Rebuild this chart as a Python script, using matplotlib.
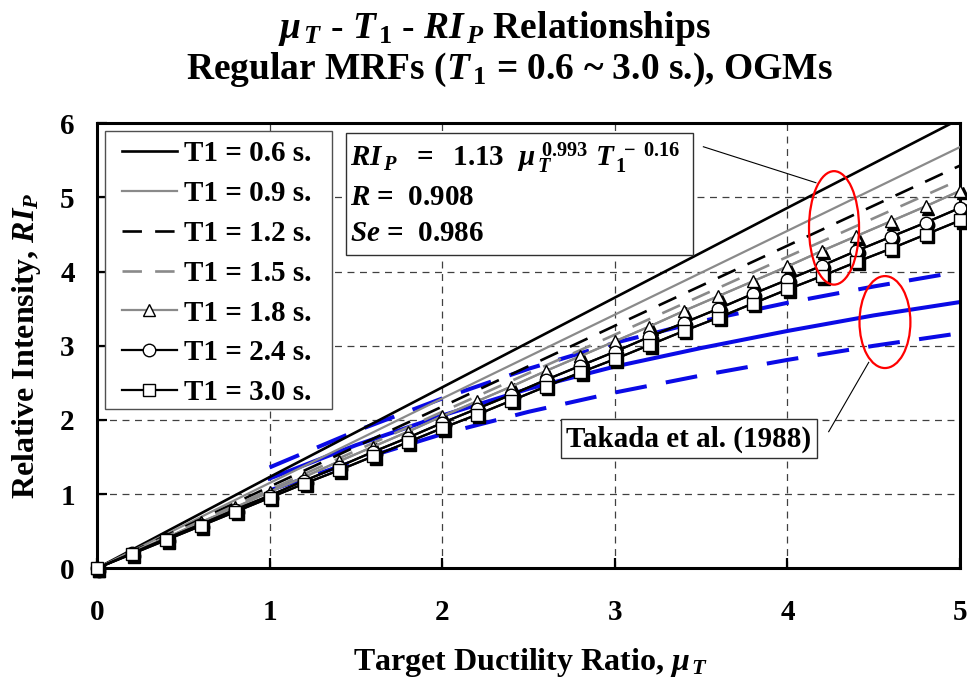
"""mu_T - T1 - RI_P relationships for regular MRFs under OGMs, with Takada et al. (1988) band."""

import matplotlib as mpl

mpl.use("Agg")
import matplotlib.pyplot as plt
from matplotlib.patches import Ellipse, Rectangle
from matplotlib.transforms import offset_copy

plt.rcParams["font.family"] = "Liberation Serif"
plt.rcParams["font.weight"] = "bold"
plt.rcParams["axes.labelweight"] = "bold"
plt.rcParams["mathtext.fontset"] = "custom"
plt.rcParams["mathtext.rm"] = "Liberation Serif:bold"
plt.rcParams["mathtext.it"] = "Liberation Serif:bold:italic"
plt.rcParams["mathtext.bf"] = "Liberation Serif:bold"
plt.rcParams["lines.scale_dashes"] = False

# target ductility ratio grids
MU_LINE = [0, 1, 2, 3, 4, 5]
MU_MARK = [0.0, 0.2, 0.4, 0.6, 0.8, 1.0, 1.2, 1.4, 1.6, 1.8, 2.0, 2.2, 2.4,
           2.6, 2.8, 3.0, 3.2, 3.4, 3.6, 3.8, 4.0, 4.2, 4.4, 4.6, 4.8, 5.0]

# relative intensity RI_P per fundamental period
RI_T06 = [0.0, 1.23, 2.44, 3.65, 4.86, 6.06]
RI_T09 = [0.0, 1.15, 2.29, 3.42, 4.55, 5.68]
RI_T12 = [0.0, 1.10, 2.18, 3.27, 4.35, 5.43]
RI_T15 = [0.0, 1.06, 2.11, 3.15, 4.20, 5.24]
RI_T18 = [0.00, 0.21, 0.41, 0.62, 0.82, 1.03, 1.23, 1.44, 1.64, 1.84, 2.05, 2.25, 2.45,
          2.66, 2.86, 3.06, 3.26, 3.47, 3.67, 3.87, 4.07, 4.28, 4.48, 4.68, 4.88, 5.09]
RI_T24 = [0.00, 0.20, 0.40, 0.59, 0.79, 0.98, 1.18, 1.37, 1.57, 1.76, 1.96, 2.15, 2.34,
          2.54, 2.73, 2.92, 3.12, 3.31, 3.50, 3.70, 3.89, 4.08, 4.28, 4.47, 4.66, 4.86]
RI_T30 = [0.00, 0.19, 0.38, 0.57, 0.76, 0.95, 1.14, 1.32, 1.51, 1.70, 1.89, 2.07, 2.26,
          2.45, 2.64, 2.82, 3.01, 3.20, 3.38, 3.57, 3.76, 3.94, 4.13, 4.31, 4.50, 4.69]

# Takada et al. (1988)
MU_TAKADA = [1.0, 1.5, 2.0, 2.5, 3.0, 3.5, 4.0, 4.5, 5.0]
TAKADA_UPPER = [1.36, 1.85, 2.29, 2.69, 3.04, 3.33, 3.58, 3.80, 4.00]
TAKADA_MEAN = [1.21, 1.66, 2.06, 2.42, 2.72, 2.97, 3.20, 3.41, 3.59]
TAKADA_LOWER = [1.05, 1.45, 1.81, 2.11, 2.37, 2.60, 2.81, 3.00, 3.17]

GRAY = "#8a8a8a"
BLUE = "#0a0ae6"
DASH = (0, (14, 9.5))
BLUE_DASH = (0, (23, 14))

fig = plt.figure(figsize=(9.67, 6.87), dpi=100)
ax = fig.add_axes([0.1003, 0.1728, 0.8925, 0.6477])

# Takada band
ax.plot(MU_TAKADA, TAKADA_UPPER, color=BLUE, lw=2.9, linestyle=BLUE_DASH, zorder=2)
ax.plot(MU_TAKADA, TAKADA_MEAN, color=BLUE, lw=2.9, zorder=2)
ax.plot(MU_TAKADA, TAKADA_LOWER, color=BLUE, lw=2.9, linestyle=BLUE_DASH, zorder=2)

ax.plot(MU_LINE, RI_T06, color="black", lw=1.9, label="T1 = 0.6 s.", zorder=3)
ax.plot(MU_LINE, RI_T09, color=GRAY, lw=1.6, label="T1 = 0.9 s.", zorder=3)
ax.plot(MU_LINE, RI_T12, color="black", lw=1.9, linestyle=DASH, label="T1 = 1.2 s.", zorder=3)
ax.plot(MU_LINE, RI_T15, color=GRAY, lw=1.9, linestyle=DASH, label="T1 = 1.5 s.", zorder=3)

shadow = offset_copy(ax.transData, fig=fig, x=2.5, y=-2.5, units="dots")
marked = [
    (RI_T18, GRAY, "^", "T1 = 1.8 s."),
    (RI_T24, "black", "o", "T1 = 2.4 s."),
    (RI_T30, "black", "s", "T1 = 3.0 s."),
]
z = 4
for vals, col, mk, lab in marked:
    ax.plot(MU_MARK, vals, color=col, lw=1.6, zorder=z)
    ax.plot(MU_MARK, vals, linestyle="none", marker=mk, ms=9, mfc="black", mec="black",
            transform=shadow, zorder=z + 0.1, clip_on=False)
    ax.plot(MU_MARK, vals, color=col, lw=1.6, marker=mk, ms=9, mfc="white", mec="black",
            mew=1.0, label=lab, zorder=z + 0.2, clip_on=False)
    z += 1

ax.set_xlim(0, 5)
ax.set_ylim(0, 6)
ax.set_xticks(range(0, 6))
ax.set_yticks(range(0, 7))
ax.grid(True, linestyle=(0, (5, 4)), color="#404040", lw=0.9)
ax.tick_params(direction="in", length=7, width=1.6, labelsize=21)
ax.tick_params(axis="x", pad=22)
ax.tick_params(axis="y", pad=16)
for sp in ax.spines.values():
    sp.set_linewidth(2.2)

ax.set_xlabel(r"Target Ductility Ratio, $\mu_{\,T}$", fontsize=23)
ax.set_ylabel(r"Relative Intensity, $RI_{P}$", fontsize=23)
ax.xaxis.set_label_coords(0.502, -0.175)
ax.yaxis.set_label_coords(-0.062, 0.5)

# legend frame drawn separately so the padding can differ per side
ax.add_patch(Rectangle((0.0093, 0.358), 0.263, 0.625, transform=ax.transAxes,
                       fc="white", ec="#505050", lw=1.0, zorder=9.5))
leg = ax.legend(loc="upper left", bbox_to_anchor=(0.0286, 0.962), borderaxespad=0,
                fontsize=21, handlelength=1.9, handletextpad=0.25, labelspacing=0.44,
                borderpad=0, numpoints=1, frameon=False)
leg.set_zorder(10)

# regression equation box
ax.add_patch(Rectangle((0.288, 0.704), 0.403, 0.275, transform=ax.transAxes,
                       fc="white", ec="#303030", lw=1.0, zorder=8))
ax.text(0.293, 0.922,
        r"$RI_{\,P}\ \ =\ \ 1.13\ \ \mu_{\,T}^{\ 0.993}\ T_{\,\mathit{1}}^{\ -\ 0.16}$",
        transform=ax.transAxes, fontsize=21, va="center", ha="left", zorder=9)
ax.text(0.293, 0.834, r"$R$ =  0.908", transform=ax.transAxes, fontsize=21,
        va="center", ha="left", zorder=9)
ax.text(0.293, 0.753, r"$Se$ =  0.986", transform=ax.transAxes, fontsize=21,
        va="center", ha="left", zorder=9)

ax.text(3.43, 1.745, "Takada et al. (1988)", fontsize=21, ha="center", va="center", zorder=9,
        bbox=dict(boxstyle="square,pad=0.2", fc="white", ec="#303030", lw=1.0))

ax.plot([3.513, 4.165], [5.684, 5.199], color="black", lw=0.8, zorder=7)
ax.plot([4.471, 4.239], [2.777, 1.842], color="black", lw=0.8, zorder=7)
ax.add_patch(Ellipse((4.27, 4.59), 0.29, 1.53, fill=False, ec="red", lw=1.6, zorder=7))
ax.add_patch(Ellipse((4.565, 3.32), 0.295, 1.24, fill=False, ec="red", lw=1.6, zorder=7))

fig.text(0.511, 0.959, r"$\mu_{\,T}$ - $T_{\,\mathit{1}}$ - $RI_{\,P}$ Relationships",
         fontsize=27, ha="center", va="center")
fig.text(0.527, 0.899, r"Regular MRFs ($T_{\,\mathit{1}}$ = 0.6 ~ 3.0 s.), OGMs",
         fontsize=27, ha="center", va="center")

fig.savefig("out.png", dpi=100)
plt.close(fig)
